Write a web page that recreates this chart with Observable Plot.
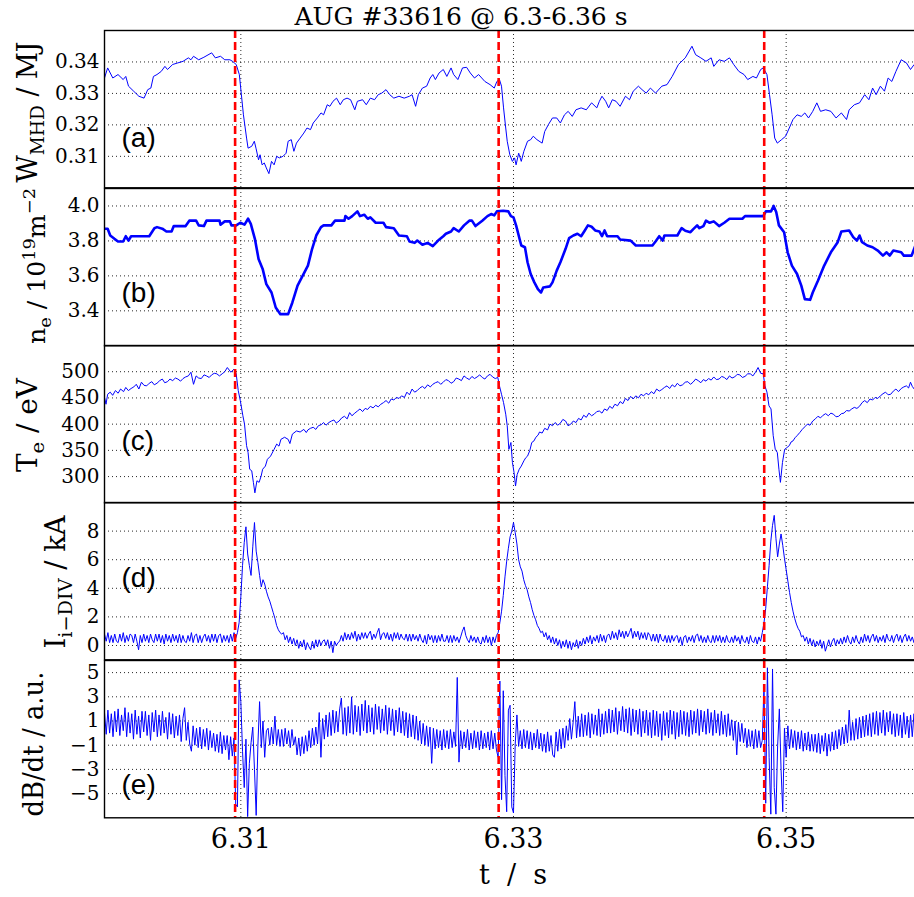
<!DOCTYPE html>
<html><head><meta charset="utf-8">
<script src="https://cdn.jsdelivr.net/npm/d3@7"></script>
<script src="https://cdn.jsdelivr.net/npm/@observablehq/plot@0.6"></script>
<style>
html,body{margin:0;padding:0;background:#fff;overflow:hidden;}
#fig{position:relative;width:914px;height:897px;overflow:hidden;background:#fff;}
</style></head><body><div id="fig"></div>
<script>
// ---------------- data (time in ms after 6.300 s) ----------------
const T0 = 6.30;
const xTicks = [6.31, 6.33, 6.35];
const elmMs = [9.58, 28.91, 48.39];

// (a) W_MHD [ms, MJ]
const wmhdPairs = [[0.00,0.3349],[0.23,0.3381],[0.61,0.3349],[0.99,0.3360],[1.37,0.3344],[1.56,0.3354],[1.76,0.3323],[2.14,0.3307],[2.52,0.3291],[2.90,0.3285],[3.17,0.3312],[3.40,0.3317],[3.59,0.3354],[3.85,0.3360],[4.16,0.3370],[4.43,0.3386],[4.62,0.3376],[5.00,0.3392],[5.38,0.3397],[5.76,0.3402],[6.15,0.3413],[6.34,0.3407],[6.53,0.3418],[6.91,0.3407],[7.29,0.3415],[7.86,0.3429],[8.13,0.3413],[8.51,0.3418],[8.82,0.3407],[9.20,0.3407],[9.39,0.3402],[9.66,0.3392],[9.89,0.3360],[10.04,0.3296],[10.19,0.3232],[10.42,0.3158],[10.53,0.3126],[10.80,0.3132],[10.99,0.3148],[11.11,0.3126],[11.30,0.3089],[11.41,0.3105],[11.56,0.3073],[11.72,0.3079],[11.87,0.3063],[12.06,0.3045],[12.25,0.3084],[12.44,0.3073],[12.63,0.3100],[12.82,0.3095],[13.09,0.3100],[13.32,0.3110],[13.47,0.3148],[13.70,0.3153],[13.89,0.3116],[14.08,0.3142],[14.35,0.3158],[14.62,0.3174],[14.85,0.3190],[15.11,0.3185],[15.31,0.3206],[15.61,0.3222],[15.88,0.3238],[16.07,0.3232],[16.34,0.3264],[16.53,0.3259],[16.76,0.3275],[17.02,0.3285],[17.29,0.3264],[17.52,0.3280],[17.79,0.3285],[18.05,0.3280],[18.36,0.3248],[18.55,0.3275],[18.93,0.3280],[19.20,0.3264],[19.50,0.3285],[19.81,0.3280],[20.08,0.3296],[20.34,0.3301],[20.65,0.3312],[20.92,0.3296],[21.22,0.3285],[21.60,0.3291],[21.98,0.3285],[22.37,0.3291],[22.56,0.3296],[22.82,0.3259],[23.02,0.3296],[23.32,0.3317],[23.63,0.3323],[23.89,0.3349],[24.08,0.3360],[24.27,0.3344],[24.54,0.3365],[24.85,0.3376],[25.11,0.3354],[25.42,0.3381],[25.61,0.3360],[25.92,0.3344],[26.26,0.3381],[26.56,0.3383],[26.83,0.3365],[27.14,0.3349],[27.44,0.3360],[27.90,0.3338],[28.28,0.3328],[28.59,0.3317],[28.78,0.3338],[28.97,0.3344],[29.12,0.3323],[29.27,0.3254],[29.43,0.3190],[29.54,0.3148],[29.73,0.3105],[29.92,0.3084],[30.08,0.3095],[30.19,0.3073],[30.38,0.3110],[30.57,0.3084],[30.76,0.3116],[31.03,0.3148],[31.26,0.3153],[31.45,0.3164],[31.72,0.3153],[32.10,0.3142],[32.29,0.3179],[32.56,0.3201],[32.86,0.3222],[33.17,0.3222],[33.44,0.3206],[33.74,0.3232],[34.01,0.3243],[34.31,0.3227],[34.58,0.3248],[34.96,0.3254],[35.34,0.3248],[35.73,0.3270],[36.11,0.3254],[36.30,0.3275],[36.49,0.3291],[36.76,0.3275],[36.98,0.3254],[37.25,0.3280],[37.52,0.3275],[37.82,0.3259],[38.21,0.3291],[38.51,0.3280],[38.78,0.3307],[39.16,0.3323],[39.43,0.3312],[39.73,0.3301],[40.04,0.3317],[40.42,0.3301],[40.88,0.3323],[41.26,0.3328],[41.64,0.3354],[42.10,0.3392],[42.60,0.3413],[43.09,0.3450],[43.36,0.3423],[43.74,0.3413],[44.12,0.3402],[44.50,0.3413],[44.69,0.3386],[45.08,0.3407],[45.46,0.3402],[45.84,0.3413],[46.15,0.3392],[46.53,0.3370],[46.91,0.3360],[47.18,0.3344],[47.56,0.3354],[47.82,0.3349],[48.13,0.3376],[48.32,0.3381],[48.59,0.3360],[48.78,0.3296],[48.97,0.3232],[49.16,0.3158],[49.35,0.3142],[49.66,0.3153],[49.96,0.3164],[50.23,0.3190],[50.50,0.3217],[50.80,0.3232],[51.11,0.3227],[51.37,0.3238],[51.64,0.3222],[51.95,0.3243],[52.25,0.3270],[52.52,0.3243],[52.90,0.3248],[53.28,0.3243],[53.66,0.3222],[54.05,0.3238],[54.43,0.3217],[54.62,0.3248],[55.00,0.3264],[55.38,0.3270],[55.76,0.3296],[56.07,0.3280],[56.34,0.3317],[56.60,0.3296],[56.91,0.3323],[57.21,0.3307],[57.48,0.3349],[57.75,0.3338],[58.05,0.3370],[58.44,0.3407],[58.82,0.3397],[59.12,0.3376],[59.39,0.3392],[59.66,0.3386],[60.00,0.3375]];

// (b) n_e [ms, 1e19 m^-2]
const nePairs = [[0.00,3.870],[0.23,3.870],[0.42,3.831],[0.73,3.812],[0.99,3.797],[1.37,3.797],[1.56,3.827],[1.76,3.802],[1.95,3.827],[3.28,3.827],[3.47,3.850],[3.66,3.873],[3.85,3.879],[4.24,3.870],[4.54,3.854],[4.92,3.854],[5.08,3.885],[5.95,3.885],[6.22,3.916],[6.72,3.916],[6.91,3.889],[7.29,3.885],[7.48,3.916],[8.44,3.916],[8.51,3.893],[8.82,3.912],[9.20,3.912],[9.31,3.889],[9.66,3.889],[9.96,3.904],[10.27,3.893],[10.53,3.927],[10.73,3.898],[11.03,3.812],[11.30,3.697],[11.60,3.640],[11.87,3.553],[12.25,3.505],[12.56,3.419],[12.90,3.381],[13.47,3.381],[13.78,3.448],[14.16,3.544],[14.54,3.601],[14.92,3.659],[15.23,3.755],[15.53,3.831],[15.88,3.879],[16.07,3.889],[16.64,3.889],[16.91,3.916],[17.60,3.916],[17.67,3.942],[17.90,3.927],[18.17,3.942],[18.55,3.969],[18.74,3.942],[19.05,3.950],[19.31,3.927],[19.50,3.935],[19.89,3.904],[20.46,3.904],[20.65,3.879],[21.22,3.873],[21.60,3.831],[22.18,3.827],[22.37,3.797],[22.75,3.789],[22.94,3.802],[23.32,3.778],[23.70,3.789],[24.08,3.770],[24.47,3.802],[24.85,3.827],[25.04,3.841],[25.42,3.854],[25.61,3.873],[25.99,3.854],[26.37,3.889],[26.76,3.916],[26.95,3.916],[27.21,3.885],[27.71,3.916],[28.09,3.942],[28.36,3.954],[28.59,3.946],[28.78,3.969],[29.24,3.973],[29.62,3.969],[29.81,3.942],[30.00,3.935],[30.19,3.889],[30.57,3.774],[30.84,3.764],[31.03,3.678],[31.26,3.611],[31.53,3.563],[31.79,3.524],[32.02,3.505],[32.18,3.534],[32.67,3.540],[32.86,3.563],[33.17,3.630],[33.44,3.678],[33.82,3.755],[34.08,3.816],[34.39,3.831],[34.69,3.841],[34.96,3.827],[35.23,3.860],[35.46,3.889],[35.73,3.881],[35.99,3.860],[36.30,3.854],[36.49,3.827],[36.68,3.860],[36.87,3.827],[37.63,3.827],[37.82,3.808],[38.59,3.802],[38.97,3.774],[40.19,3.774],[40.42,3.797],[40.69,3.827],[40.95,3.802],[41.07,3.831],[42.02,3.831],[42.33,3.873],[42.60,3.858],[42.98,3.850],[43.17,3.866],[43.47,3.889],[43.63,3.873],[43.93,3.885],[44.12,3.916],[44.39,3.904],[44.69,3.912],[45.08,3.885],[45.46,3.904],[45.84,3.927],[46.79,3.927],[46.98,3.942],[48.32,3.942],[48.51,3.969],[48.89,3.969],[49.08,4.000],[49.27,3.965],[49.47,3.889],[49.85,3.850],[50.11,3.735],[50.42,3.659],[50.80,3.611],[51.11,3.544],[51.37,3.467],[51.76,3.463],[51.95,3.505],[52.33,3.572],[52.79,3.659],[53.28,3.735],[53.78,3.793],[54.05,3.854],[54.62,3.860],[54.92,3.822],[55.19,3.802],[55.38,3.831],[55.57,3.793],[55.95,3.774],[56.34,3.764],[56.72,3.745],[57.10,3.716],[57.37,3.735],[57.60,3.716],[57.86,3.745],[58.44,3.735],[58.63,3.716],[59.20,3.716],[59.50,3.778],[60.00,3.790]];

// (c) T_e [ms, eV]
const tePairs = [[0.00,451],[0.11,438],[0.23,457],[0.42,461],[0.60,455],[0.80,464],[1.00,459],[1.18,467],[1.40,462],[1.56,470],[1.75,464],[1.95,468],[2.15,471],[2.33,476],[2.52,467],[2.71,480],[2.90,474],[3.09,473],[3.28,478],[3.47,481],[3.65,475],[3.85,478],[4.05,483],[4.24,486],[4.42,479],[4.62,481],[4.80,486],[5.00,483],[5.20,488],[5.38,486],[5.58,482],[5.76,487],[5.95,490],[6.15,492],[6.34,499],[6.53,476],[6.72,492],[6.90,488],[7.10,487],[7.30,494],[7.48,492],[7.68,489],[7.86,494],[8.05,497],[8.24,496],[8.43,492],[8.63,496],[8.82,500],[9.01,508],[9.27,499],[9.50,505],[9.66,496],[9.81,464],[9.96,445],[10.15,416],[10.27,400],[10.42,359],[10.53,346],[10.65,314],[10.80,311],[10.92,289],[11.03,269],[11.18,292],[11.34,289],[11.49,301],[11.60,314],[11.80,320],[11.95,333],[12.18,339],[12.44,352],[12.63,362],[12.80,358],[12.94,371],[13.21,375],[13.47,371],[13.60,363],[13.78,381],[14.08,387],[14.35,385],[14.62,390],[14.80,384],[14.92,389],[15.10,392],[15.31,394],[15.50,390],[15.69,397],[15.90,399],[16.07,403],[16.25,398],[16.45,403],[16.65,406],[16.83,408],[17.00,402],[17.21,406],[17.40,412],[17.60,415],[17.80,410],[17.98,422],[18.15,416],[18.36,421],[18.55,425],[18.74,429],[18.93,424],[19.12,430],[19.30,428],[19.50,434],[19.70,431],[19.89,436],[20.08,433],[20.27,438],[20.46,441],[20.65,445],[20.85,440],[21.03,448],[21.22,446],[21.41,451],[21.60,449],[21.79,454],[22.00,451],[22.18,461],[22.37,456],[22.56,467],[22.75,461],[22.94,464],[23.13,469],[23.32,472],[23.50,468],[23.70,475],[23.90,471],[24.08,476],[24.27,479],[24.47,481],[24.66,476],[24.85,480],[25.04,485],[25.23,483],[25.42,478],[25.61,481],[25.80,488],[25.99,486],[26.18,483],[26.37,492],[26.56,488],[26.76,485],[26.95,491],[27.14,487],[27.33,490],[27.52,494],[27.71,489],[27.90,486],[28.09,492],[28.28,495],[28.47,490],[28.66,487],[28.85,489],[28.97,473],[29.12,457],[29.27,441],[29.43,419],[29.54,397],[29.66,352],[29.81,365],[29.92,327],[30.04,308],[30.15,282],[30.27,304],[30.42,314],[30.57,320],[30.76,330],[30.90,336],[31.03,339],[31.20,350],[31.34,365],[31.50,368],[31.64,375],[31.80,379],[31.91,385],[32.10,383],[32.29,392],[32.50,389],[32.67,400],[32.86,397],[33.05,403],[33.25,398],[33.44,402],[33.62,409],[33.82,406],[34.00,397],[34.20,400],[34.39,406],[34.58,403],[34.77,411],[34.96,408],[35.15,417],[35.34,413],[35.53,421],[35.73,416],[35.92,419],[36.11,424],[36.30,425],[36.49,421],[36.68,429],[36.87,426],[37.06,434],[37.25,430],[37.44,438],[37.63,435],[37.82,443],[38.02,439],[38.21,449],[38.40,445],[38.59,453],[38.78,448],[38.97,454],[39.16,450],[39.35,457],[39.54,454],[39.73,459],[39.92,456],[40.11,462],[40.30,458],[40.50,467],[40.69,463],[40.88,466],[41.07,470],[41.26,473],[41.45,468],[41.64,475],[41.83,471],[42.02,478],[42.21,473],[42.40,475],[42.60,480],[42.79,481],[42.98,476],[43.17,480],[43.36,486],[43.55,483],[43.74,479],[43.93,485],[44.12,482],[44.31,487],[44.50,484],[44.69,490],[44.88,485],[45.08,486],[45.27,491],[45.46,489],[45.65,485],[45.84,492],[46.03,488],[46.22,490],[46.41,495],[46.60,494],[46.79,489],[46.98,491],[47.18,496],[47.37,496],[47.56,492],[47.75,499],[47.94,508],[48.13,497],[48.32,496],[48.44,473],[48.59,461],[48.74,435],[48.89,429],[49.05,378],[49.20,352],[49.35,346],[49.47,314],[49.58,289],[49.73,327],[49.89,352],[50.04,355],[50.23,359],[50.36,366],[50.50,368],[50.65,374],[50.80,378],[51.00,384],[51.18,390],[51.37,395],[51.56,400],[51.75,398],[51.95,406],[52.14,410],[52.33,415],[52.52,412],[52.71,417],[52.90,420],[53.09,416],[53.28,421],[53.47,419],[53.66,414],[53.85,415],[54.05,420],[54.24,421],[54.43,426],[54.62,425],[54.81,429],[55.00,432],[55.19,430],[55.38,434],[55.57,441],[55.76,445],[55.95,441],[56.15,448],[56.34,446],[56.53,451],[56.72,449],[56.91,454],[57.10,458],[57.29,461],[57.48,456],[57.67,457],[57.86,463],[58.05,467],[58.24,462],[58.44,468],[58.63,471],[58.82,473],[58.98,469],[59.12,480],[59.25,472],[59.39,467],[59.58,461],[59.80,470],[60.00,466]];

// (d) I_i-DIV [kA], one sample every 0.125 ms, 8 samples per row = 1 ms
const idivStepMs = 0.125;
const idivValues = [
 0.8,0.3,0.9,0.2,0.7,0.2,0.8,0.3,
 0.2,0.8,0.3,0.9,0.2,0.7,0.3,0.8,
 0.7,0.2,0.8,0.3,-0.3,0.7,0.2,0.8,
 0.3,0.7,0.2,0.8,0.4,0.2,0.8,0.3,
 0.8,0.2,0.7,0.1,0.8,0.3,0.7,0.2,
 0.8,0.3,0.7,0.2,0.8,0.2,0.7,0.3,
 0.2,0.7,0.3,0.9,0.2,0.7,0.8,0.2,
 0.7,0.2,0.6,0.8,0.3,0.7,0.2,0.8,
 0.3,0.8,0.2,0.7,0.8,0.2,0.7,0.3,
 0.7,0.2,0.8,0.3,0.9,0.5,0.9,1.6,
 3.4,5.6,7.2,8.3,6.4,5.6,4.9,6.9,
 8.6,6.6,5.8,4.9,4.1,4.6,4.3,3.8,
 3.4,3.1,2.7,2.3,1.9,1.4,1.1,0.9,
 0.8,0.9,0.4,0.7,0.2,0.6,0.1,0.5,
 0.0,0.4,-0.2,0.3,-0.1,0.4,-0.3,0.2,
 -0.1,-0.3,0.3,-0.2,0.4,-0.1,0.4,0.0,
 0.3,0.4,0.0,0.4,-0.2,0.3,-0.5,0.3,
 0.0,0.2,0.3,0.7,0.3,0.9,0.4,0.8,
 0.4,0.9,0.5,1.0,0.3,0.8,0.4,0.9,
 0.5,0.9,0.5,0.8,1.0,0.4,0.8,0.5,
 0.9,1.2,0.4,0.8,0.9,0.5,0.9,0.4,
 0.8,0.3,0.9,0.5,0.9,0.4,0.8,0.5,
 0.4,0.8,0.3,0.8,0.3,0.8,0.4,0.7,
 0.3,0.8,0.4,0.2,0.7,0.1,0.8,0.4,
 0.7,0.2,0.7,0.2,0.7,0.3,0.8,0.3,
 0.3,0.7,0.2,0.7,0.2,0.7,0.3,0.6,
 0.2,0.6,1.0,1.3,0.7,0.4,0.2,0.7,
 0.3,0.6,0.2,0.6,0.2,0.1,0.6,0.2,
 0.7,0.2,0.6,0.0,0.6,0.2,0.7,0.9,
 1.6,2.4,3.5,4.8,5.9,6.8,7.6,8.0,
 8.6,7.9,7.1,6.0,5.5,5.2,4.6,4.2,
 3.9,3.4,3.0,2.5,2.1,1.8,1.4,1.2,
 0.9,1.0,0.6,0.9,0.4,0.7,0.2,0.6,
 0.1,0.5,0.0,0.4,-0.2,0.3,-0.1,0.4,
 -0.2,0.3,-0.3,0.2,-0.1,0.4,-0.2,0.3,
 0.0,0.5,0.1,0.6,0.2,0.7,0.1,0.6,
 0.3,0.7,0.2,0.8,0.3,0.7,0.2,0.7,
 0.8,0.4,1.0,0.5,0.9,0.4,1.1,0.6,
 1.0,0.5,1.0,0.6,0.9,1.2,0.5,1.0,
 0.6,1.0,0.4,0.9,0.5,0.9,0.4,0.9,
 0.7,0.3,0.8,0.3,0.8,0.2,0.8,0.4,
 0.3,0.7,0.2,0.7,0.2,0.7,0.3,0.6,
 0.7,0.2,0.6,0.0,0.6,0.7,0.2,0.6,
 0.3,0.7,0.2,0.7,0.8,0.3,0.7,0.2,
 0.6,0.2,0.7,0.3,0.2,0.7,0.2,0.7,
 0.3,0.7,0.2,0.6,0.2,0.7,0.3,0.2,
 0.6,0.2,0.7,0.3,0.6,0.1,0.7,0.3,
 0.2,0.6,0.1,0.7,0.3,0.2,0.6,0.1,
 0.6,0.3,0.9,1.6,2.6,4.1,5.6,7.3,
 8.4,9.1,7.5,6.2,7.1,7.8,7.0,6.1,
 5.3,4.5,3.7,3.0,2.4,1.9,1.5,1.2,
 1.0,0.6,0.7,0.3,0.6,0.1,0.5,0.0,
 0.4,-0.1,0.3,0.0,0.4,-0.2,0.3,-0.4,
 0.0,0.4,-0.1,0.3,0.5,0.0,0.4,0.1,
 0.5,0.1,0.6,0.2,0.7,0.3,0.1,0.6,
 0.2,0.7,0.3,0.1,0.6,0.2,0.8,0.3,
 0.7,0.2,0.6,0.8,0.3,0.7,0.2,0.6,
 0.3,0.7,0.2,0.8,0.4,0.3,0.7,0.2,
 0.6,0.8,0.3,0.7,0.2,0.6,0.8,0.3,
 0.7,0.3,0.6,0.2,0.7,0.4,0.3,0.7,
 0.5];

// (e) dB/dt [a.u.], one sample every 0.125 ms
const dbdtStepMs = 0.125;
const dbdtValues = [
 1.7,-0.1,1.9,0.0,1.6,-0.3,1.8,0.1,
 2.0,-0.2,1.5,0.2,2.1,-0.3,1.7,0.0,
 1.6,-0.5,1.9,-0.1,1.4,-0.4,1.8,0.1,
 1.8,-0.2,1.5,-0.6,1.7,0.1,1.9,-0.3,
 1.5,-0.2,1.8,0.0,1.3,-0.5,1.7,-0.1,
 1.6,-0.4,1.4,-0.2,1.5,-0.7,1.2,2.1,
 -0.6,0.9,-0.9,-1.5,0.6,-1.0,0.4,-1.2,
 0.5,-1.3,0.3,-1.1,0.4,-1.4,0.2,-1.2,
 0.0,-1.5,-0.1,-1.6,0.1,-1.7,-0.2,-1.4,
 -0.2,-2.2,-0.3,-1.9,-0.4,-5.9,-6.1,4.4,
 2.6,-1.5,-4.5,-0.5,-6.9,-2.5,-0.8,0.5,
 -3.0,-6.8,-1.0,2.6,-1.2,1.0,-2.0,0.2,
 0.4,-1.0,0.5,-0.9,1.4,-1.0,0.3,-1.1,
 0.3,-1.1,0.4,-0.9,0.2,-1.2,0.3,-1.0,
 -0.3,-1.8,-0.4,-1.9,-0.3,-1.7,-0.2,-1.5,
 0.2,-1.2,0.4,-1.0,0.5,-0.9,1.7,-2.0,
 1.2,-0.5,1.5,-0.3,1.7,-0.2,1.9,0.0,
 1.8,0.1,2.0,2.9,-0.1,2.1,-0.2,2.2,
 0.0,3.0,-0.1,2.3,0.1,2.2,-0.2,2.4,
 0.2,2.7,0.0,2.3,0.1,2.1,-0.1,2.4,
 0.3,2.2,0.0,2.0,0.2,2.3,-0.1,2.1,
 0.2,2.0,-0.2,1.9,0.1,2.1,0.0,1.8,
 -0.2,1.7,-0.4,1.6,-0.3,1.5,-0.5,1.4,
 -0.6,1.0,-0.9,0.8,-1.0,0.6,-1.1,0.5,
 -2.5,0.4,-1.3,0.3,-1.2,0.2,-1.4,0.3,
 -1.2,0.2,-1.3,0.3,-1.2,0.1,-1.1,4.6,
 -2.4,0.2,-1.3,0.1,-1.2,0.3,-1.4,0.0,
 -1.3,0.2,-1.2,0.1,-1.4,0.2,-1.3,0.0,
 -1.2,0.1,-1.4,0.2,-1.3,0.0,-1.4,-2.0,
 4.3,-5.5,3.5,-3.5,-6.5,1.9,2.3,-6.1,
 -6.6,-0.9,1.5,-1.1,0.2,-1.3,0.3,-1.2,
 0.2,-1.3,0.1,-1.4,0.0,-1.2,0.3,-1.3,
 0.0,-1.5,-0.1,-1.6,0.1,-1.5,-0.2,-1.8,
 -2.0,0.1,-1.5,0.3,-1.3,0.4,-1.2,0.6,
 -0.6,1.2,-0.5,0.9,2.6,-0.4,1.4,-0.3,
 1.6,-0.3,1.5,-0.2,1.7,-0.4,1.6,-0.1,
 1.5,-0.2,2.0,-0.3,1.6,-0.1,1.8,0.0,
 2.0,0.0,1.9,0.1,2.1,-0.1,1.8,0.2,
 2.2,0.1,2.0,0.0,2.1,-0.2,2.0,0.1,
 1.9,-0.1,2.0,-0.3,1.8,0.0,1.9,-0.2,
 1.7,-0.4,1.9,-0.2,1.8,-0.3,1.6,-0.6,
 1.8,-0.2,1.7,-0.4,1.9,-0.1,1.8,-0.5,
 1.7,-0.3,1.9,-0.1,1.8,-0.2,1.7,-0.3,
 1.9,-0.1,1.8,0.0,2.0,-0.2,1.9,0.1,
 1.8,-0.1,2.0,0.0,1.7,-0.2,1.9,0.0,
 1.6,-0.2,1.8,-0.1,1.5,-0.3,1.6,-0.2,
 1.1,-0.6,1.0,-1.8,0.9,-0.7,0.8,-0.8,
 0.4,-1.2,0.3,-1.1,0.2,-1.3,0.3,-1.2,
 0.2,-1.2,-0.6,4.0,-5.8,5.4,-2.0,-6.7,
 5.3,-4.5,-6.7,-1.0,2.0,-3.0,-6.5,0.4,
 -2.0,0.6,-1.3,0.3,-1.2,0.2,-1.4,0.1,
 -1.3,0.2,-1.5,0.0,-1.4,0.1,-1.5,-0.1,
 -1.5,-0.1,-1.6,0.0,-1.7,-0.2,-1.5,0.0,
 -1.9,-0.1,-1.5,0.1,-1.4,0.2,-1.3,0.3,
 -1.0,0.5,-0.9,0.7,-0.8,1.9,-0.6,0.9,
 -0.6,1.2,-0.5,1.3,-0.4,1.4,-0.3,1.5,
 -0.2,1.6,-0.3,1.7,-0.1,1.8,-0.2,1.7,
 0.0,1.9,-0.2,1.7,0.1,1.8,-0.1,1.6,
 -0.3,1.6,-0.2,1.5,-0.4,1.7,-0.1,1.4,
 -0.4,1.5,-0.3,1.6,-0.2,1.4,-0.3,1.5,
 0.5];

// y-axis ticks per panel
const wTicks = [0.31, 0.32, 0.33, 0.34];
const neTicks = [3.4, 3.6, 3.8, 4.0];
const teTicks = [300, 350, 400, 450, 500];
const idivTicks = [0, 2, 4, 6, 8];
const dbdtTicks = [-5, -3, -1, 1, 3, 5];

// ---------------- build ----------------
const toRows = pairs => pairs.map(([ms, v]) => ({t: T0 + ms / 1000, v}));
const fromSamples = (vals, step) => vals.map((v, i) => ({t: T0 + i * step / 1000, v}));
const elmTimes = elmMs.map(ms => T0 + ms / 1000);
const minus = d => (d < 0 ? "\u2212" + Math.abs(d) : String(d));

const panels = [
  {rows: toRows(wmhdPairs), domain: [0.300, 0.350], ticks: wTicks, fmt: d => d.toFixed(2), sw: 1, letter: "(a)", ldy: 108},
  {rows: toRows(nePairs), domain: [3.2, 4.1], ticks: neTicks, fmt: d => d.toFixed(1), sw: 2.6, letter: "(b)", ldy: 105},
  {rows: toRows(tePairs), domain: [250, 550], ticks: teTicks, fmt: d => String(d), sw: 1, letter: "(c)", ldy: 96},
  {rows: fromSamples(idivValues, idivStepMs), domain: [-1, 10], ticks: idivTicks, fmt: d => String(d), sw: 1, letter: "(d)", ldy: 76},
  {rows: fromSamples(dbdtValues, dbdtStepMs), domain: [-7, 6], ticks: dbdtTicks, fmt: minus, sw: 1, letter: "(e)", ldy: 124.5}
];

const PANEL_TOP = 30.3, PANEL_H = 157.3;
const SERIF = "'DejaVu Serif', serif";
const fig = document.getElementById("fig");

panels.forEach((p, i) => {
  const mt = 10, mb = i === 4 ? 80 : 10;
  const marks = [
    Plot.gridY(p.ticks, {stroke: "#000", strokeOpacity: 0.85, strokeWidth: 1, strokeDasharray: "1,3"}),
    Plot.gridX(xTicks, {stroke: "#000", strokeOpacity: 0.85, strokeWidth: 1, strokeDasharray: "1,3"}),
    Plot.axisY(p.ticks, {tickSize: 0, tickPadding: 5, tickFormat: p.fmt, fontSize: 20, fontFamily: SERIF, label: null}),
    Plot.line(p.rows, {x: "t", y: "v", stroke: "#0000ff", strokeWidth: p.sw, strokeLinejoin: "round", clip: true}),
    Plot.ruleX(elmTimes, {stroke: "#ff0000", strokeWidth: 2.6, strokeDasharray: "8,4"}),
    Plot.text([p.letter], {text: d => d, frameAnchor: "top-left", dx: 17, dy: p.ldy, textAnchor: "start", lineAnchor: "middle", fontSize: 28, fontFamily: "'Liberation Sans', Arial, sans-serif", fill: "#000"}),
    Plot.frame({stroke: "#000", strokeWidth: 1.4})
  ];
  if (i === 4) marks.push(Plot.axisX(xTicks, {tickSize: 0, tickPadding: 11, tickFormat: d => d.toFixed(2), fontSize: 27, fontFamily: SERIF, label: null}));
  const svg = Plot.plot({
    width: 924, height: PANEL_H + mt + mb,
    marginLeft: 104, marginRight: 2, marginTop: mt, marginBottom: mb,
    x: {domain: [6.30, 6.36], axis: null},
    y: {domain: p.domain, axis: null},
    style: {background: "transparent", maxWidth: "none", overflow: "visible", fontFamily: SERIF, color: "#000"},
    marks
  });
  svg.style.position = "absolute";
  svg.style.left = "0px";
  svg.style.top = (PANEL_TOP + i * PANEL_H - mt) + "px";
  fig.appendChild(svg);
});

// ---------------- overlay text: title and axis labels ----------------
const ov = d3.select(fig).append("svg")
  .attr("width", 914).attr("height", 897)
  .style("position", "absolute").style("left", "0px").style("top", "0px")
  .style("pointer-events", "none").style("font-family", SERIF);

ov.append("text").attr("x", 461).attr("y", 25).attr("text-anchor", "middle").attr("font-size", 25).attr("fill", "#000")
  .text("AUG #33616 @ 6.3-6.36 s");

ov.append("text").attr("x", 513).attr("y", 884).attr("text-anchor", "middle").attr("font-size", 27).attr("fill", "#000")
  .attr("xml:space", "preserve").style("white-space", "pre").text("t  /  s");

const yLabels = [
  {parts: [["W"], ["MHD", "sub"], [" / MJ"]], bx: 37, cy: 112, fs: 27, len: 141},
  {parts: [["n"], ["e", "sub"], [" / 10"], ["19", "sup"], ["m"], ["\u22122", "sup"]], bx: 45, cy: 266, fs: 24, len: 156},
  {parts: [["T"], ["e", "sub"], [" / eV"]], bx: 37, cy: 425, fs: 27, len: 94},
  {parts: [["I"], ["i\u2212DIV", "sub"], [" / kA"]], bx: 65, cy: 582, fs: 27, len: 133},
  {parts: [["dB/dt / a.u."]], bx: 43, cy: 744, fs: 27, len: 145}
];
yLabels.forEach(l => {
  const t = ov.append("text").attr("transform", `translate(${l.bx},${l.cy}) rotate(-90)`)
    .attr("text-anchor", "middle").attr("font-size", l.fs).attr("fill", "#000").style("white-space", "pre")
    .attr("textLength", l.len).attr("lengthAdjust", "spacingAndGlyphs");
  let shift = 0;
  l.parts.forEach(([s, kind]) => {
    const target = kind === "sub" ? Math.round(l.fs * 0.26) : kind === "sup" ? -Math.round(l.fs * 0.4) : 0;
    const ts = t.append("tspan").attr("dy", target - shift).text(s);
    if (kind) ts.attr("font-size", Math.round(l.fs * 0.7));
    shift = target;
  });
});
</script></body></html>
